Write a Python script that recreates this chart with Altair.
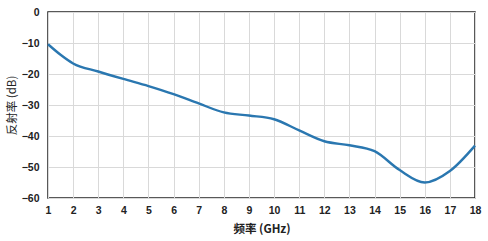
import altair as alt
import pandas as pd

freq = [1, 1.5, 2, 3, 4, 5, 6, 7, 8, 9, 10, 11, 12, 13, 14, 15, 16, 17, 18]
refl = [-10.4, -13.8, -16.6, -19.2, -21.6, -23.9, -26.5, -29.5, -32.4, -33.4, -34.6, -38.2, -41.7, -43.0, -44.9, -51.0, -55.0, -51.3, -43.1]

df = pd.DataFrame({"f": freq, "r": refl})

FONT = "Noto Sans CJK SC"
LFONT = "Liberation Sans"

chart = alt.Chart(df).mark_line(
    color="#2a77b0", strokeWidth=2.4, interpolate="monotone"
).encode(
    x=alt.X("f:Q", scale=alt.Scale(domain=[1, 18], nice=False),
            axis=alt.Axis(title="频率 (GHz)", values=list(range(1, 19)),
                          format="d", grid=True, gridColor="#d9d9d9", ticks=False,
                          domain=False, labelPadding=7, labelFontSize=10.5,
                          labelOverlap=False, labelFlush=False,
                          labelFontWeight="bold", labelColor="#222",
                          titleFontSize=11.5, titleFontWeight="bold", titleColor="#222",
                          titlePadding=8, labelFont=LFONT, titleFont=FONT)),
    y=alt.Y("r:Q", scale=alt.Scale(domain=[-60, 0], nice=False),
            axis=alt.Axis(title="反射率 (dB)", values=list(range(-60, 1, 10)),
                          grid=True, gridColor="#d9d9d9", ticks=False, domain=False,
                          labelPadding=9, labelFontSize=10.5, labelFontWeight="bold",
                          labelOverlap=False, labelFlush=False,
                          labelColor="#222", titleFontSize=11.5, titleFontWeight="normal",
                          titleColor="#222", titlePadding=4, labelFont=LFONT, titleFont=FONT)),
).properties(
    width=427, height=186,
    padding={"left": 48, "top": 12, "right": 13, "bottom": 43},
    autosize=alt.AutoSizeParams(type="none"),
).configure(background="white").configure_view(stroke="#222", strokeWidth=1.5)

chart.save("out.html", embed_options={"renderer": "svg", "actions": False})
